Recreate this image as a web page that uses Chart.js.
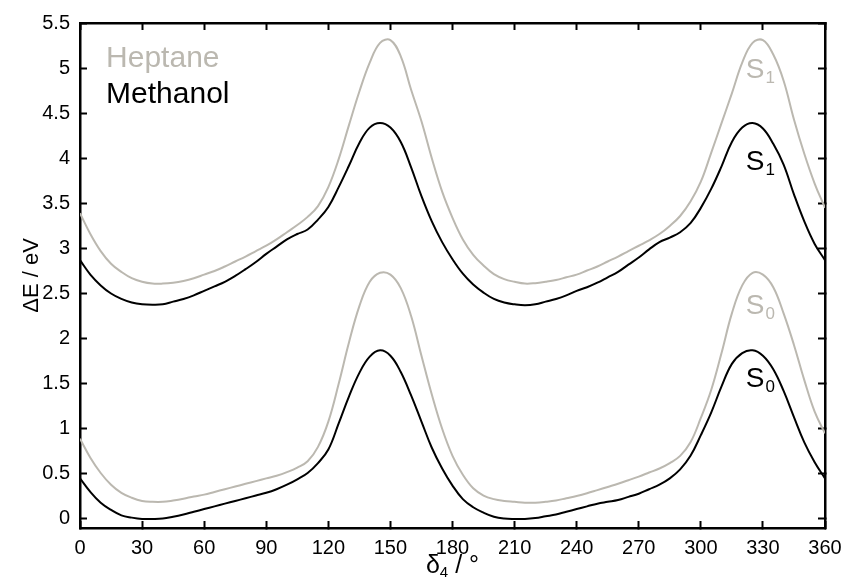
<!DOCTYPE html>
<html><head><meta charset="utf-8">
<script src="https://cdn.jsdelivr.net/npm/chart.js@4.4.1/dist/chart.umd.min.js"></script>
<style>html,body{margin:0;padding:0;background:#fff}#wrap{width:848px;height:580px}</style>
</head><body><div id="wrap"><canvas id="c" width="848" height="580"></canvas></div>
<script>
// torsion angle delta4 (degrees)
const angles = [0,5,10,15,20,25,30,35,40,45,50,55,60,65,70,75,80,85,90,95,100,105,110,115,120,125,130,135,140,145,150,155,160,165,170,175,180,185,190,195,200,205,210,215,220,225,230,235,240,245,250,255,260,265,270,275,280,285,290,295,300,305,310,315,320,325,330,335,340,345,350,355,360];
const heptaneS1 = [3.39,3.16,2.97,2.83,2.74,2.67,2.63,2.61,2.61,2.62,2.64,2.67,2.71,2.75,2.80,2.855,2.91,2.97,3.03,3.10,3.18,3.26,3.35,3.47,3.68,3.99,4.37,4.74,5.06,5.28,5.31,5.13,4.76,4.41,4.00,3.63,3.34,3.10,2.93,2.81,2.715,2.66,2.63,2.61,2.615,2.63,2.65,2.68,2.71,2.755,2.80,2.855,2.91,2.97,3.03,3.09,3.16,3.25,3.36,3.52,3.74,4.06,4.39,4.72,5.06,5.28,5.31,5.15,4.86,4.43,4.05,3.72,3.45];
const methanolS1 = [2.87,2.71,2.59,2.50,2.44,2.40,2.38,2.375,2.38,2.41,2.44,2.48,2.53,2.58,2.63,2.695,2.77,2.85,2.94,3.02,3.10,3.16,3.21,3.32,3.46,3.68,3.92,4.17,4.34,4.39,4.34,4.18,3.90,3.58,3.30,3.07,2.88,2.72,2.60,2.51,2.44,2.40,2.38,2.37,2.38,2.41,2.44,2.48,2.53,2.57,2.62,2.68,2.74,2.82,2.90,2.99,3.07,3.12,3.18,3.28,3.45,3.66,3.91,4.18,4.34,4.39,4.33,4.16,3.93,3.60,3.30,3.05,2.87];
const heptaneS0 = [0.89,0.68,0.51,0.38,0.29,0.235,0.20,0.19,0.19,0.205,0.225,0.25,0.27,0.30,0.33,0.36,0.39,0.42,0.45,0.48,0.52,0.57,0.64,0.80,1.08,1.50,1.96,2.36,2.63,2.73,2.71,2.56,2.25,1.81,1.38,1.00,0.70,0.49,0.34,0.26,0.22,0.20,0.19,0.18,0.18,0.19,0.205,0.23,0.255,0.285,0.32,0.355,0.39,0.43,0.47,0.515,0.56,0.62,0.70,0.85,1.12,1.43,1.84,2.28,2.59,2.73,2.71,2.57,2.28,1.93,1.54,1.19,0.95];
const methanolS0 = [0.45,0.30,0.18,0.10,0.04,0.015,0.00,0.00,0.005,0.025,0.05,0.08,0.11,0.14,0.17,0.20,0.23,0.26,0.29,0.33,0.38,0.44,0.51,0.62,0.77,1.06,1.36,1.62,1.80,1.87,1.81,1.63,1.37,1.08,0.79,0.56,0.37,0.22,0.13,0.07,0.025,0.005,0.00,0.00,0.01,0.03,0.05,0.08,0.11,0.14,0.17,0.19,0.21,0.245,0.28,0.33,0.38,0.45,0.55,0.70,0.93,1.18,1.47,1.72,1.84,1.87,1.81,1.66,1.42,1.13,0.85,0.63,0.45];

const xTicks = [0,30,60,90,120,150,180,210,240,270,300,330,360];
const yTicks = [0,0.5,1,1.5,2,2.5,3,3.5,4,4.5,5,5.5];
const yTickLabels = ['0','0.5','1','1.5','2','2.5','3','3.5','4','4.5','5','5.5'];

const GREY = 'rgb(187,184,176)';
const BLACK = '#000';
const FONT = '"Liberation Sans", Arial, Helvetica, sans-serif';

function pts(arr){ return angles.map((a,i)=>({x:a,y:arr[i]})); }

const txtPlugin = {
  id:'txt',
  afterDraw(chart){
    const ctx = chart.ctx, xs = chart.scales.x, ys = chart.scales.y;
    ctx.save();
    ctx.textAlign = 'left'; ctx.textBaseline = 'alphabetic';
    ctx.font = '30px ' + FONT;
    ctx.fillStyle = GREY;
    ctx.fillText('Heptane', xs.getPixelForValue(12.6), ys.getPixelForValue(5.01));
    ctx.fillStyle = BLACK;
    ctx.fillText('Methanol', xs.getPixelForValue(12.6), ys.getPixelForValue(4.61));
    function sLab(main, sub, xv, yv, col){
      const px = xs.getPixelForValue(xv), py = ys.getPixelForValue(yv);
      ctx.fillStyle = col;
      ctx.font = '28px ' + FONT;
      ctx.fillText(main, px, py);
      const w = ctx.measureText(main).width;
      ctx.font = '17px ' + FONT;
      ctx.fillText(sub, px + w + 1, py + 5);
    }
    sLab('S','1',321.7,4.89,GREY);
    sLab('S','1',321.7,3.87,BLACK);
    sLab('S','0',321.7,2.27,GREY);
    sLab('S','0',321.7,1.46,BLACK);
    ctx.fillStyle = BLACK;
    ctx.save();
    ctx.translate(38, (chart.chartArea.top + chart.chartArea.bottom)/2);
    ctx.rotate(-Math.PI/2);
    ctx.textAlign = 'center';
    ctx.font = '22px ' + FONT;
    ctx.fillText('\u0394E / eV', 0, 0);
    ctx.restore();
    const cx = (chart.chartArea.left + chart.chartArea.right)/2;
    const by = 573;
    ctx.font = '25px ' + FONT;
    const wD = ctx.measureText('\u03b4').width;
    const wR = ctx.measureText(' / \u00b0').width;
    ctx.font = '15px ' + FONT;
    const wS = ctx.measureText('4').width;
    let sx = cx - (wD + wS + wR)/2;
    ctx.font = '25px ' + FONT;
    ctx.fillText('\u03b4', sx, by);
    ctx.font = '15px ' + FONT;
    ctx.fillText('4', sx + wD, by + 4);
    ctx.font = '25px ' + FONT;
    ctx.fillText(' / \u00b0', sx + wD + wS, by);
    ctx.restore();
  }
};

const tickFont = {family: FONT, size: 20};
const gridOpts = {drawOnChartArea:false, drawTicks:true, tickLength:-7, tickWidth:2, color:'#000'};
const borderOpts = {display:true, width:2.5, color:'#000'};
function fixBox(prop, val){
  return s => { s[prop] = val; s.paddingLeft = 0; s.paddingRight = 0; s.paddingTop = 0; s.paddingBottom = 0; };
}

new Chart(document.getElementById('c'), {
  type:'line',
  data:{datasets:[
    {label:'Heptane S1', data:pts(heptaneS1), borderColor:GREY, borderWidth:2, pointRadius:0, fill:false, tension:0.4},
    {label:'Heptane S0', data:pts(heptaneS0), borderColor:GREY, borderWidth:2, pointRadius:0, fill:false, tension:0.4},
    {label:'Methanol S1', data:pts(methanolS1), borderColor:BLACK, borderWidth:2, pointRadius:0, fill:false, tension:0.4},
    {label:'Methanol S0', data:pts(methanolS0), borderColor:BLACK, borderWidth:2, pointRadius:0, fill:false, tension:0.4}
  ]},
  options:{
    responsive:false, animation:false,
    layout:{padding:0},
    plugins:{legend:{display:false}, tooltip:{enabled:false}},
    scales:{
      x:{type:'linear', position:'bottom', min:0, max:360,
        afterBuildTicks:s=>{s.ticks = xTicks.map(v=>({value:v}));},
        ticks:{font:tickFont, color:'#000', padding:15, autoSkip:false, maxRotation:0, callback:v=>String(v)},
        grid:gridOpts, border:borderOpts,
        afterFit:fixBox('height',52)},
      x2:{type:'linear', position:'top', min:0, max:360,
        afterBuildTicks:s=>{s.ticks = xTicks.map(v=>({value:v}));},
        ticks:{font:tickFont, color:'rgba(0,0,0,0)', autoSkip:false, maxRotation:0, callback:()=>''},
        grid:gridOpts, border:borderOpts,
        afterFit:fixBox('height',23)},
      y:{type:'linear', position:'left', min:-0.1, max:5.5,
        afterBuildTicks:s=>{s.ticks = yTicks.map(v=>({value:v}));},
        ticks:{font:tickFont, color:'#000', padding:17, autoSkip:false, callback:(v)=>{const i=yTicks.indexOf(v); return i>=0?yTickLabels[i]:'';}},
        grid:gridOpts, border:borderOpts,
        afterFit:fixBox('width',80)},
      y2:{type:'linear', position:'right', min:-0.1, max:5.5,
        afterBuildTicks:s=>{s.ticks = yTicks.map(v=>({value:v}));},
        ticks:{font:tickFont, color:'rgba(0,0,0,0)', autoSkip:false, callback:()=>''},
        grid:gridOpts, border:borderOpts,
        afterFit:fixBox('width',23)}
    }
  },
  plugins:[txtPlugin]
});
</script></body></html>
